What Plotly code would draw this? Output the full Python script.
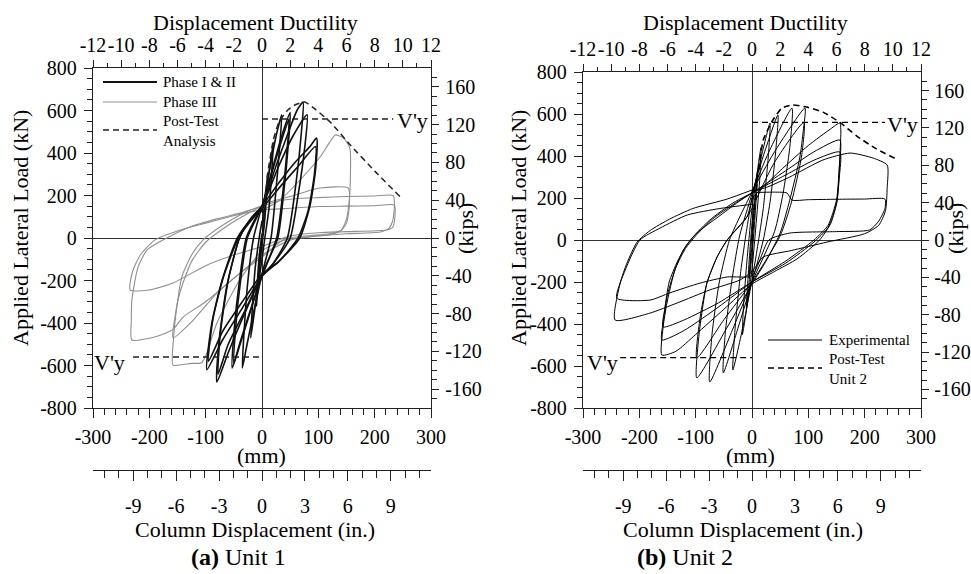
import plotly.graph_objects as go

W, H = 971, 574
FONT = "Liberation Serif"

# ---------------- axis values ----------------
KN_PER_KIP = 4.44822
MM_PER_IN = 25.4
kn_ticks = [-800, -600, -400, -200, 0, 200, 400, 600, 800]
kip_ticks = [-160, -120, -80, -40, 0, 40, 80, 120, 160]
mm_ticks = [-300, -200, -100, 0, 100, 200, 300]
in_ticks = [-9, -6, -3, 0, 3, 6, 9]
duct_ticks = [-12, -10, -8, -6, -4, -2, 0, 2, 4, 6, 8, 10, 12]
mm_range = [-300, 300]
kn_range = [-800, 800]
duct_range = [-12, 12]
yield_load = 560  # V'y (kN)

# ---------------- Unit 1, Phase I & II (mm, kN) ----------------
U1_C1 = [(0, -20), (5, 150), (10, 300), (8, 200), (4, 60), (0, -30), (-5, -160), (-10, -320), (-8, -200), (-4, -60), (0, 20)]
U1_C2 = [(0, 60), (10, 260), (20, 450), (17, 300), (12, 130), (5, 0), (0, -100), (-10, -280), (-20, -470), (-17, -320), (-12, -140), (-5, 0), (0, 80)]
U1_C3 = [(0, 120), (12, 300), (25, 480), (35, 580), (31, 420), (24, 200), (16, 0), (0, -170), (-15, -350), (-28, -520), (-35, -612), (-32, -450), (-25, -200), (-15, 0), (0, 150)]
U1_C4 = [(0, 140), (18, 320), (35, 480), (50, 590), (47, 450), (38, 200), (28, 0), (0, -170), (-20, -340), (-40, -510), (-53, -612), (-50, -450), (-40, -200), (-28, 0), (0, 150)]
U1_C5 = [(0, 150), (20, 330), (36, 470), (48, 560), (45, 430), (36, 190), (26, 0), (0, -180), (-22, -350), (-40, -500), (-50, -590), (-47, -430), (-38, -200), (-26, 0), (0, 150)]
U1_C6 = [(0, 150), (25, 340), (50, 520), (62, 600), (73, 640), (70, 500), (60, 250), (45, 0), (20, -120), (0, -180), (-30, -350), (-60, -540), (-80, -678), (-76, -480), (-62, -220), (-40, 0), (-20, 90), (0, 150)]
U1_C7 = [(0, 150), (30, 340), (55, 480), (80, 580), (76, 430), (64, 200), (50, 0), (20, -120), (0, -180), (-30, -340), (-60, -500), (-78, -640), (-74, -450), (-60, -200), (-40, 0), (-20, 90), (0, 150)]
U1_C8 = [(0, 150), (30, 260), (60, 360), (85, 430), (97, 470), (95, 320), (85, 150), (67, 0), (30, -110), (0, -180), (-35, -330), (-70, -480), (-98, -620), (-89, -400), (-71, -200), (-44, 0), (-20, 90), (0, 150)]
U1_C9 = [(0, 140), (35, 250), (65, 340), (95, 430), (93, 300), (82, 130), (64, 0), (30, -110), (0, -170), (-35, -300), (-70, -440), (-95, -580), (-87, -380), (-68, -180), (-42, 0), (-20, 80), (0, 140)]

# ---------------- Unit 1, Phase III ----------------
U1_G1 = [(0, 130), (32, 179), (70, 280), (103, 381), (120, 450), (130, 485), (145, 470), (156, 423), (157, 300), (155, 180), (150, 90), (140, 35), (120, 15), (80, 5), (40, -10), (0, -60), (-40, -200), (-80, -400), (-100, -555), (-108, -588), (-125, -590), (-140, -595), (-158, -598), (-157, -470), (-152, -340), (-142, -180), (-125, -80), (-105, -10), (-70, 60), (-30, 120), (0, 150)]
U1_G2 = [(0, 160), (50, 195), (103, 235), (153, 235), (155, 150), (150, 70), (140, 35), (120, 20), (80, 10), (40, -5), (0, -90), (-39, -165), (-80, -259), (-122, -386), (-158, -470), (-155, -380), (-145, -250), (-125, -110), (-100, -20), (-60, 60), (-25, 115), (0, 150)]
U1_G3 = [(0, 150), (30, 175), (60, 185), (100, 190), (150, 195), (200, 198), (233, 200), (235, 150), (232, 80), (225, 45), (210, 28), (150, 20), (100, 10), (50, -10), (0, -80), (-50, -190), (-100, -300), (-140, -372), (-158, -430), (-186, -462), (-231, -480), (-232, -390), (-231, -292), (-220, -136), (-204, -56), (-169, 0), (-128, 52), (-80, 90), (-39, 117), (0, 150)]
U1_G4 = [(0, -40), (-50, -80), (-100, -130), (-158, -212), (-200, -245), (-234, -245), (-230, -160), (-216, -80), (-190, -9), (-145, 38), (-100, 70), (-50, 105), (0, 132), (50, 140), (100, 148), (150, 150), (200, 152), (235, 155), (236, 100), (232, 50), (221, 38), (150, 30), (100, 25), (50, 10), (0, -40)]

# ---------------- Unit 1 post-test analysis ----------------
U1_POST = [(0, 0), (10, 300), (20, 460), (30, 545), (45, 600), (60, 628), (76, 640), (95, 605), (121, 546), (156, 440), (200, 315), (245, 195)]

# ---------------- Unit 2, experimental ----------------
U2_C1 = [(0, 40), (3, 120), (5, 180), (3, 90), (0, -30), (-3, -110), (-5, -180), (-3, -90), (0, 40)]
U2_C2 = [(0, 80), (5, 200), (10, 330), (8, 220), (4, 60), (0, -70), (-5, -200), (-10, -330), (-8, -220), (-4, -60), (0, 80)]
U2_C3 = [(0, 150), (8, 300), (16, 440), (14, 300), (8, 100), (0, -140), (-8, -300), (-17, -450), (-15, -310), (-9, -100), (0, 150)]
U2_C4 = [(0, 200), (15, 380), (32, 557), (29, 400), (20, 150), (10, -30), (0, -190), (-15, -400), (-34, -619), (-30, -420), (-20, -150), (-10, 40), (0, 200)]
U2_C5 = [(0, 220), (20, 400), (46, 595), (42, 420), (32, 180), (20, 0), (0, -200), (-25, -420), (-51, -633), (-47, -430), (-35, -180), (-22, 20), (0, 220)]
U2_C6 = [(0, 230), (30, 420), (71, 628), (67, 440), (55, 220), (40, 40), (0, -200), (-35, -430), (-75, -676), (-71, -450), (-58, -200), (-40, 0), (-20, 120), (0, 230)]
U2_C7 = [(0, 230), (40, 420), (94, 628), (91, 520), (85, 395), (67, 190), (50, 33), (25, -100), (0, -210), (-45, -420), (-98, -657), (-94, -450), (-80, -205), (-62, -81), (-44, 0), (-9, 110), (0, 150)]
U2_C8 = [(0, 150), (40, 370), (92, 560), (88, 400), (70, 180), (50, 20), (0, -200), (-50, -380), (-98, -562), (-92, -367), (-80, -205), (-62, -81), (-44, 0), (-9, 110), (0, 200)]
U2_C9 = [(0, 200), (50, 330), (100, 450), (140, 530), (156, 557), (156, 400), (151, 190), (140, 80), (120, 0), (80, -90), (40, -150), (0, -210), (-50, -330), (-100, -450), (-135, -530), (-160, -548), (-158, -420), (-151, -300), (-137, -143), (-122, -48), (-105, 14), (-75, 95), (-34, 176), (0, 224)]
U2_C10 = [(0, 224), (60, 330), (110, 420), (156, 476), (155, 350), (150, 190), (135, 70), (110, 0), (60, -100), (0, -200), (-60, -320), (-120, -430), (-160, -476), (-157, -380), (-150, -260), (-135, -130), (-118, -40), (-100, 20), (-70, 100), (-30, 175), (0, 224)]
U2_C11 = [(0, 224), (60, 310), (110, 380), (156, 419), (155, 300), (150, 170), (135, 60), (110, -10), (60, -110), (0, -200), (-60, -300), (-120, -380), (-158, -414), (-155, -330), (-147, -200), (-132, -100), (-115, -20), (-95, 40), (-60, 110), (-25, 180), (0, 224)]
U2_C12 = [(0, 229), (30, 255), (67, 300), (126, 381), (174, 414), (215, 390), (240, 357), (240, 250), (237, 140), (225, 70), (200, 30), (133, -10), (70, -50), (20, -81), (0, -150), (-21, -190), (-75, -238), (-133, -300), (-181, -348), (-243, -381), (-234, -205), (-222, -110), (-204, -10), (-181, 45), (-146, 100), (-105, 150), (-44, 195), (0, 238)]
U2_C13 = [(0, 238), (2, 229), (40, 228), (62, 224), (71, 190), (100, 192), (150, 194), (200, 195), (236, 195), (236, 150), (225, 90), (209, 48), (150, 40), (67, 33), (30, 0), (0, -170), (-44, -176), (-92, -205), (-146, -252), (-181, -286), (-240, -277), (-225, -143), (-199, 0), (-163, 57), (-115, 119), (-57, 150), (0, 170)]

# ---------------- Unit 2 post-test ----------------
U2_POST = [(0, 0), (10, 300), (20, 476), (35, 562), (53, 628), (71, 643), (97, 633), (126, 609), (156, 560), (186, 495), (220, 435), (254, 388)]

U1_PHASE12 = [U1_C1, U1_C2, U1_C3, U1_C4, U1_C5, U1_C6, U1_C7, U1_C8, U1_C9]
U1_PHASE3 = [U1_G1, U1_G2, U1_G3, U1_G4]
U2_EXP = [U2_C1, U2_C2, U2_C3, U2_C4, U2_C5, U2_C6, U2_C7, U2_C8, U2_C9, U2_C10, U2_C11, U2_C12, U2_C13]


def flatten(loops):
    xs, ys = [], []
    for loop in loops:
        for x, y in loop:
            xs.append(x)
            ys.append(y)
        xs.append(None)
        ys.append(None)
    return xs, ys


def PX(x):
    return x / W


def PY(y):
    return 1 - y / H


fig = go.Figure()

# ---- Unit 1 traces ----
gx, gy = flatten(U1_PHASE3)
fig.add_trace(go.Scatter(x=gx, y=gy, mode="lines", xaxis="x", yaxis="y",
                         line=dict(color="#8f8f8f", width=1.1, shape="spline", smoothing=0.6),
                         showlegend=False, hoverinfo="skip"))
bx, by = flatten(U1_PHASE12)
fig.add_trace(go.Scatter(x=bx, y=by, mode="lines", xaxis="x", yaxis="y",
                         line=dict(color="#111111", width=1.6, shape="spline", smoothing=0.6),
                         showlegend=False, hoverinfo="skip"))
fig.add_trace(go.Scatter(x=[p[0] for p in U1_POST], y=[p[1] for p in U1_POST], mode="lines",
                         xaxis="x", yaxis="y",
                         line=dict(color="#222222", width=1.5, dash="6px,4px", shape="spline", smoothing=0.5),
                         showlegend=False, hoverinfo="skip"))
for xs in ([0, 233], [-229, 0]):
    fig.add_trace(go.Scatter(x=xs, y=[yield_load if xs[0] == 0 else -yield_load] * 2, mode="lines",
                             xaxis="x", yaxis="y",
                             line=dict(color="#222222", width=1.4, dash="6px,4px"),
                             showlegend=False, hoverinfo="skip"))

# ---- Unit 2 traces ----
ex, ey = flatten(U2_EXP)
fig.add_trace(go.Scatter(x=ex, y=ey, mode="lines", xaxis="x2", yaxis="y3",
                         line=dict(color="#000000", width=1.0, shape="spline", smoothing=0.6),
                         showlegend=False, hoverinfo="skip"))
fig.add_trace(go.Scatter(x=[p[0] for p in U2_POST], y=[p[1] for p in U2_POST], mode="lines",
                         xaxis="x2", yaxis="y3",
                         line=dict(color="#000000", width=1.6, dash="6px,4px", shape="spline", smoothing=0.5),
                         showlegend=False, hoverinfo="skip"))
for xs in ([0, 236], [-234, 0]):
    fig.add_trace(go.Scatter(x=xs, y=[yield_load if xs[0] == 0 else -yield_load] * 2, mode="lines",
                             xaxis="x2", yaxis="y3",
                             line=dict(color="#000000", width=1.2, dash="6px,4px"),
                             showlegend=False, hoverinfo="skip"))

# dummy traces so secondary axes are drawn
for xa, ya in (("x3", "y"), ("x", "y2"), ("x5", "y"), ("x4", "y3"), ("x2", "y4"), ("x6", "y3")):
    fig.add_trace(go.Scatter(x=[0], y=[0], mode="markers", xaxis=xa, yaxis=ya,
                             marker=dict(opacity=0, size=1), showlegend=False, hoverinfo="skip"))

tickfont = dict(family=FONT, size=20, color="black")


def ax(ticks, rng, minor_dtick, ticklen=8, minorlen=5, **kw):
    d = dict(range=rng, tickmode="array", tickvals=ticks, ticktext=[str(v) for v in ticks],
             showgrid=False, showline=True, linecolor="#222", linewidth=1.3, automargin=False,
             ticks="outside", ticklen=ticklen, tickwidth=1.2, tickcolor="#222",
             tickfont=tickfont, tickangle=0, zeroline=False,
             minor=dict(tickmode="linear", tick0=0, dtick=minor_dtick, ticks="outside",
                        ticklen=minorlen, tickwidth=1, tickcolor="#222", showgrid=False))
    d.update(kw)
    return d


kip_range = [kn_range[0] / KN_PER_KIP, kn_range[1] / KN_PER_KIP]
in_range = [mm_range[0] / MM_PER_IN, mm_range[1] / MM_PER_IN]

xa_dom = [PX(93), PX(431)]
xb_dom = [PX(583), PX(921)]
ya_dom = [PY(408), PY(68)]
yb_dom = [PY(408), PY(72)]
in_pos = PY(470)

zl = dict(zeroline=True, zerolinecolor="#333", zerolinewidth=1.2)

fig.update_layout(
    template="none",
    width=W, height=H, margin=dict(l=0, r=0, t=0, b=0, pad=0), autosize=False,
    paper_bgcolor="white", plot_bgcolor="white", showlegend=False,
    font=dict(family=FONT, color="black", size=20),
    # Unit 1
    xaxis=ax(mm_ticks, mm_range, 20, ticklen=9, minorlen=6, domain=xa_dom, anchor="y",
             ticklabelstandoff=2, **zl),
    yaxis=ax(kn_ticks, kn_range, 50, domain=ya_dom, anchor="x", ticklabelstandoff=3, **zl),
    xaxis3=ax(duct_ticks, duct_range, 1, ticklen=7, minorlen=4, overlaying="x", anchor="y",
              side="top", ticklabelstandoff=0),
    yaxis2=ax(kip_ticks, kip_range, 10, ticklen=7, minorlen=5, overlaying="y", anchor="x",
              side="right", ticklabelstandoff=2),
    xaxis5=ax(in_ticks, in_range, 1, ticklen=10, minorlen=7, overlaying="x", anchor="free",
              position=in_pos, side="bottom", ticklabelstandoff=8),
    # Unit 2
    xaxis2=ax(mm_ticks, mm_range, 20, ticklen=9, minorlen=6, domain=xb_dom, anchor="y3",
              ticklabelstandoff=2, **zl),
    yaxis3=ax(kn_ticks, kn_range, 50, domain=yb_dom, anchor="x2", ticklabelstandoff=3, **zl),
    xaxis4=ax(duct_ticks, duct_range, 1, ticklen=7, minorlen=4, overlaying="x2", anchor="y3",
              side="top", ticklabelstandoff=0),
    yaxis4=ax(kip_ticks, kip_range, 10, ticklen=7, minorlen=5, overlaying="y3", anchor="x2",
              side="right", ticklabelstandoff=1),
    xaxis6=ax(in_ticks, in_range, 1, ticklen=10, minorlen=7, overlaying="x2", anchor="free",
              position=in_pos, side="bottom", ticklabelstandoff=8),
)


def note(text, x, y, size=22, xanchor="center", angle=0, align="center"):
    fig.add_annotation(text=text, x=PX(x), y=PY(y), xref="paper", yref="paper",
                       showarrow=False, xanchor=xanchor, yanchor="middle", textangle=angle,
                       align=align, font=dict(family=FONT, size=size, color="black"))


for cx, ylab_x, kips_x, mm_x, col_x, cap_x, cap in (
        (255, 20, 466, 261, 255, 238, "<b>(a)</b> Unit 1"),
        (745, 518, 956, 750, 743, 685, "<b>(b)</b> Unit 2")):
    note("Displacement Ductility", cx, 22)
    note("Applied Lateral Load (kN)", ylab_x, 228, angle=-90)
    note("(kips)", kips_x, 229, angle=-90)
    note("(mm)", mm_x, 455)
    note("Column Displacement (in.)", col_x, 529)
    note(cap, cap_x, 557, size=24)

# V'y labels
note("V'y", 395, 121, xanchor="left")
note("V'y", 127, 362, xanchor="right")
note("V'y", 885, 124, xanchor="left")
note("V'y", 620, 362, xanchor="right")


# legends (drawn manually)
def leg_line(x0, x1, y, color, width, dash="solid"):
    fig.add_shape(type="line", xref="paper", yref="paper", x0=PX(x0), x1=PX(x1), y0=PY(y), y1=PY(y),
                  line=dict(color=color, width=width, dash=dash))


leg_line(103, 157, 82, "#111", 1.8)
leg_line(103, 157, 102, "#8f8f8f", 1.1)
leg_line(103, 157, 130, "#222", 1.5, "6px,4px")
note("Phase I &amp; II", 161, 82, size=15, xanchor="left", align="left")
note("Phase III", 161, 102, size=15, xanchor="left", align="left")
note("Post-Test<br>Analysis", 161, 131, size=15, xanchor="left", align="left")

leg_line(768, 822, 340, "#000", 1.2)
leg_line(768, 822, 368, "#000", 1.6, "6px,4px")
note("Experimental", 827, 340, size=15, xanchor="left", align="left")
note("Post-Test<br>Unit 2", 827, 369, size=15, xanchor="left", align="left")

# remove the browser's default page margin so the figure sits at the window's top-left corner
fig.write_html("out.html", config={"displayModeBar": False},
               post_script="document.body.style.margin='0';document.body.style.overflow='hidden';")
